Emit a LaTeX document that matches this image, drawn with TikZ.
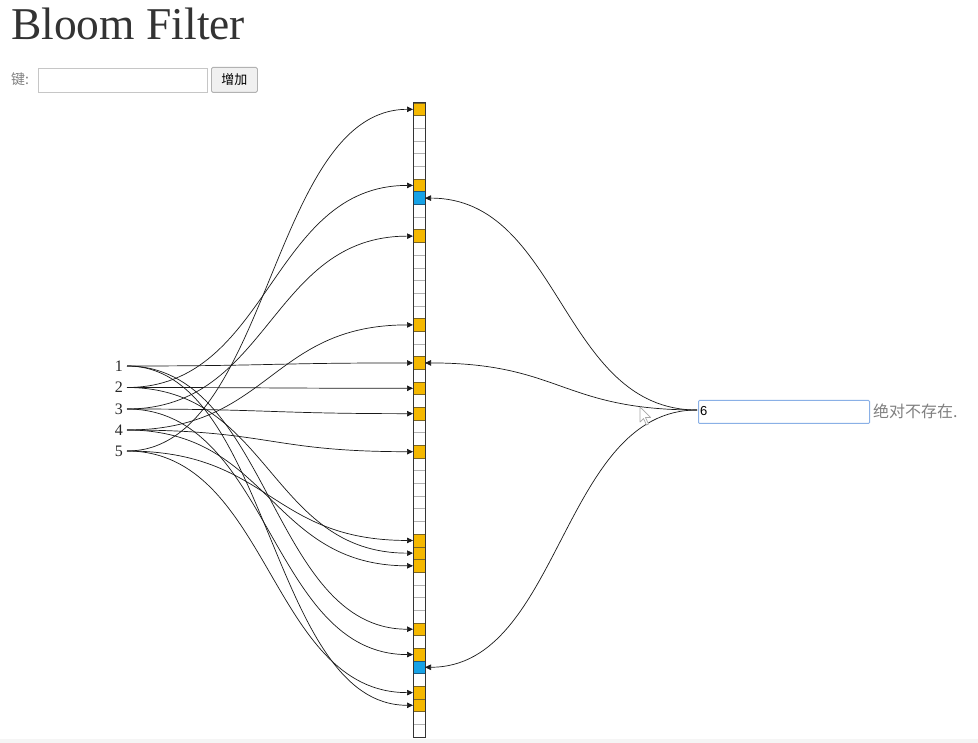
\documentclass[tikz,border=0pt]{standalone}
\usepackage{fontspec}
\setmainfont{Liberation Serif}
\newfontfamily\cjk{Noto Sans CJK SC}
\newfontfamily\sansf{Liberation Sans}
\usetikzlibrary{arrows.meta,calc}
\definecolor{setc}{HTML}{F5B800}
\definecolor{setb}{HTML}{7A6420}
\definecolor{qc}{HTML}{16A2E6}
\definecolor{qb}{HTML}{1A5A80}
\definecolor{titlec}{HTML}{333333}
\definecolor{boxb}{HTML}{8AB0E6}
\tikzset{
  cell/.style={draw=gray!60, line width=0.6pt, minimum width=12pt, minimum height=12.68pt, inner sep=0pt, outer sep=0pt},
  link/.style={draw=black!90, line width=0.7pt, -{Triangle[length=6pt,width=5.5pt]}},
  keylab/.style={anchor=east, inner sep=0pt, font=\fontsize{16}{16}\selectfont, text=black!85},
}
\begin{document}
\begin{tikzpicture}[x=1pt,y=-1pt]
\useasboundingbox (0,0) rectangle (978,743);
\fill[white] (0,0) rectangle (978,743);
\fill[gray!8] (0,739) rectangle (978,743);

% header
\node[anchor=base west, inner sep=0pt, font=\fontsize{45.5}{48}\selectfont, text=titlec] (title) at (11,40) {Bloom Filter};
\node[anchor=west, inner sep=0pt, font=\cjk\fontsize{14}{14}\selectfont, text=gray] (keylbl) at (11,79) {键:};
\node[draw=gray!45, line width=0.8pt, minimum width=169pt, minimum height=24pt, anchor=north west, inner sep=0pt] (keyin) at (38,68) {};
\node[draw=gray!60, fill=gray!12, rounded corners=1.5pt, line width=0.8pt, minimum width=46pt, minimum height=25pt, anchor=north west, inner sep=0pt, font=\cjk\fontsize{13}{13}\selectfont] (btn) at (211,67) {增加};

% bit array
\foreach \i in {0,...,49} {
  \node[cell] (c\i) at (419,{103+12.68*(\i+0.5)}) {};
}
\foreach \i in {0,6,10,17,20,22,24,27,34,35,36,41,43,46,47} {
  \path[fill=setc, draw=setb, line width=0.6pt] (c\i.north west) rectangle (c\i.south east);
}
\foreach \i in {7,44} {
  \path[fill=qc, draw=qb, line width=0.6pt] (c\i.north west) rectangle (c\i.south east);
}
\draw[black!80, line width=1pt] (c0.north west) rectangle (c49.south east);

% keys
\foreach \k/\y in {1/366,2/387.5,3/409,4/430,5/451} {
  \node[keylab] (k\k) at (123,\y) {\k};
  \coordinate (s\k) at (127,\y);
}

% links from keys
\foreach \k/\c in {1/20,1/41,1/47,2/6,2/22,2/35,3/10,3/24,3/43,4/17,4/27,4/36,5/0,5/34,5/46} {
  \draw[link] (s\k) .. controls +(143,0) and +(-143,0) .. (c\c.west);
}

% query
\node[draw=boxb, line width=1pt, rounded corners=1pt, minimum width=171pt, minimum height=23pt, anchor=west, inner sep=0pt] (q) at (698,412) {};
\node[anchor=west, inner sep=0pt, font=\sansf\fontsize{13}{13}\selectfont] (qtext) at (700,411.5) {6};
\node[anchor=west, inner sep=0pt, font=\cjk\fontsize{16}{16}\selectfont, text=gray] (res) at (873,411) {绝对不存在.};
\coordinate (qs) at (697,410);
\foreach \c in {7,20,44} {
  \draw[link] (qs) .. controls +(-136,0) and +(136,0) .. (c\c.east);
}

% mouse cursor
\draw[fill=white, draw=gray!70, line width=0.7pt, line join=round] (640,407) -- (640,422) -- (643.5,418.5) -- (646.5,425) -- (648.5,424) -- (645.5,417.5) -- (650.5,417.5) -- cycle;
\end{tikzpicture}
\end{document}
